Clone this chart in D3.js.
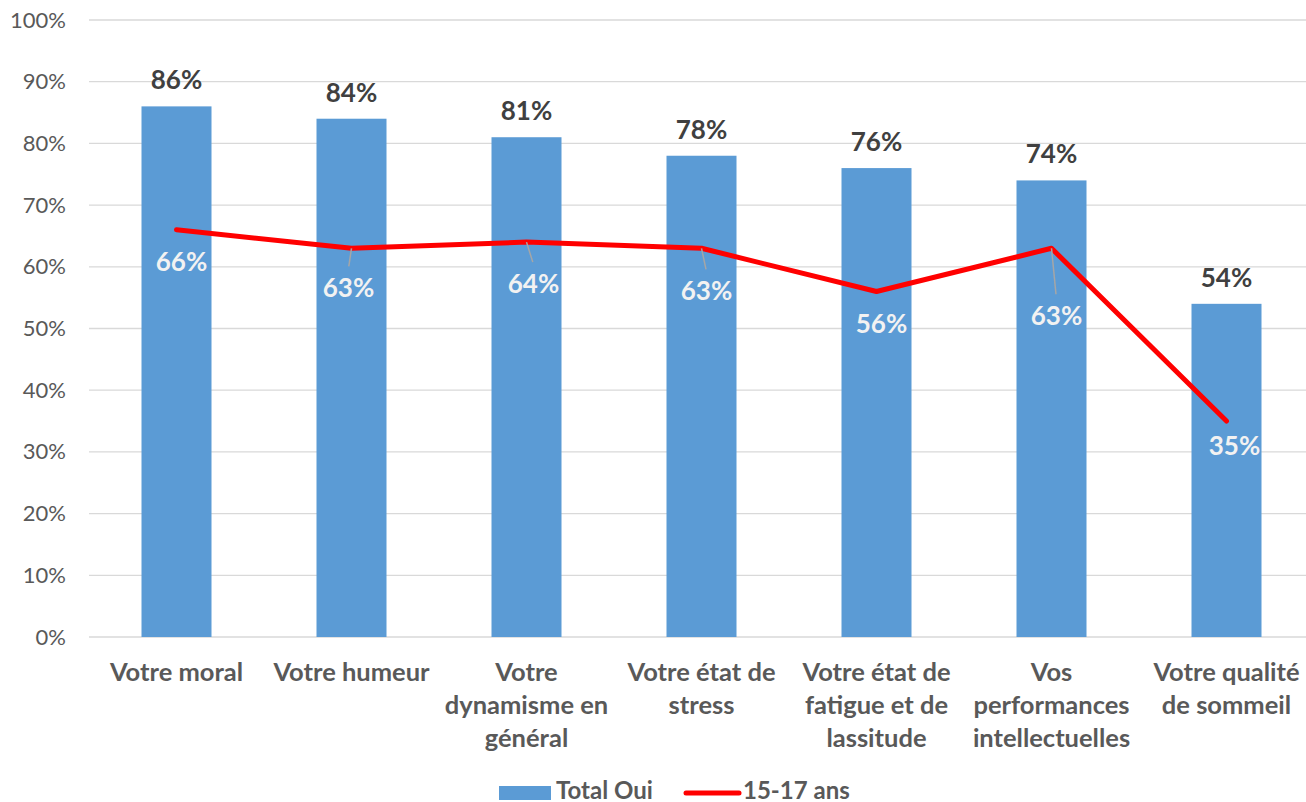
<!DOCTYPE html>
<html>
<head>
<meta charset="utf-8">
<script src="https://cdn.jsdelivr.net/npm/d3@7"></script>
<style>
  body { margin: 0; background: #fff; }
  svg { display: block; font-family: Lato, "Open Sans", sans-serif; }
</style>
</head>
<body>
<div id="chart"></div>
<script>
// data
var categories = [
  ["Votre moral"],
  ["Votre humeur"],
  ["Votre", "dynamisme en", "général"],
  ["Votre état de", "stress"],
  ["Votre état de", "fatigue et de", "lassitude"],
  ["Vos", "performances", "intellectuelles"],
  ["Votre qualité", "de sommeil"]
];
var totalOui = [86, 84, 81, 78, 76, 74, 54];
var ans1517 = [66, 63, 64, 63, 56, 63, 35];
var yTicks = [0, 10, 20, 30, 40, 50, 60, 70, 80, 90, 100];
var seriesNames = ["Total Oui", "15-17 ans"];

// where excel put the line labels (offset from the point), and which have leader lines
var lineLabelOffset = [[5, 32], [-3, 40], [7, 42], [5, 43], [5, 32], [5, 68], [8, 25]];
var hasLeader = [false, true, true, true, false, true, false];

var W = 1306, H = 802;
var plotLeft = 89, plotRight = 1314, plotTop = 20, plotBottom = 637;

var svg = d3.select("#chart").append("svg")
    .attr("width", W)
    .attr("height", H);

var x = d3.scaleBand()
    .domain(d3.range(categories.length))
    .range([plotLeft, plotRight])
    .paddingInner(0.6)
    .paddingOuter(0.3);

var y = d3.scaleLinear().domain([0, 100]).range([plotBottom, plotTop]);

// gridlines
svg.append("g")
    .selectAll("line")
    .data(yTicks)
  .enter().append("line")
    .attr("x1", plotLeft)
    .attr("x2", W)
    .attr("y1", function(d){ return y(d) })
    .attr("y2", function(d){ return y(d) })
    .style("stroke", "#d9d9d9")
    .style("stroke-width", 1.3);

// y axis labels
var yAxis = svg.append("g")
    .attr("transform", "translate(" + (plotLeft - 23) + ",0)")
    .call(d3.axisLeft(y).tickValues(yTicks).tickSize(0).tickPadding(0).tickFormat(function(d){ return d + "%" }));
yAxis.select(".domain").remove();
yAxis.selectAll("text")
    .style("font-family", "Lato, sans-serif")
    .style("font-size", "22px")
    .style("fill", "#595959");

// bars
svg.selectAll(".bar")
    .data(totalOui)
  .enter().append("rect")
    .attr("class", "bar")
    .attr("x", function(d, i){ return x(i) })
    .attr("width", x.bandwidth())
    .attr("y", function(d){ return y(d) })
    .attr("height", function(d){ return y(0) - y(d) })
    .style("fill", "#5b9bd5");

// bar labels
svg.selectAll(".barlab")
    .data(totalOui)
  .enter().append("text")
    .attr("class", "barlab")
    .attr("x", function(d, i){ return x(i) + x.bandwidth() / 2 })
    .attr("y", function(d){ return y(d) - 17 })
    .attr("text-anchor", "middle")
    .style("font-size", "26px")
    .style("font-weight", "bold")
    .style("fill", "#404040")
    .text(function(d){ return d + "%" });

// line
var line = d3.line()
    .x(function(d, i){ return x(i) + x.bandwidth() / 2 })
    .y(function(d){ return y(d) });

svg.append("path")
    .datum(ans1517)
    .attr("d", line)
    .style("fill", "none")
    .style("stroke", "#ff0000")
    .style("stroke-width", 5)
    .style("stroke-linecap", "round")
    .style("stroke-linejoin", "round");

// leader lines
ans1517.forEach(function(d, i){
    if (!hasLeader[i]) return;
    var px = x(i) + x.bandwidth() / 2, py = y(d);
    var o = lineLabelOffset[i];
    svg.append("line")
        .attr("x1", px)
        .attr("y1", py)
        .attr("x2", px + o[0] * 0.9)
        .attr("y2", py + o[1] - 22)
        .style("stroke", "#a6a6a6")
        .style("stroke-width", 1.5);
});

// line labels
svg.selectAll(".linelab")
    .data(ans1517)
  .enter().append("text")
    .attr("class", "linelab")
    .attr("x", function(d, i){ return x(i) + x.bandwidth() / 2 + lineLabelOffset[i][0] })
    .attr("y", function(d, i){ return y(d) + lineLabelOffset[i][1] })
    .attr("dy", "0.35em")
    .attr("text-anchor", "middle")
    .style("font-size", "26px")
    .style("font-weight", "bold")
    .style("fill", "#f2f2f2")
    .text(function(d){ return d + "%" });

// category labels
var cat = svg.selectAll(".cat")
    .data(categories)
  .enter().append("text")
    .attr("class", "cat")
    .attr("text-anchor", "middle")
    .style("font-size", "25.5px")
    .style("font-weight", "bold")
    .style("fill", "#595959");

cat.selectAll("tspan")
    .data(function(d, i){ return d.map(function(s){ return {s: s, i: i} }) })
  .enter().append("tspan")
    .attr("x", function(d){ return x(d.i) + x.bandwidth() / 2 })
    .attr("y", function(d, j){ return 681 + j * 33 })
    .text(function(d){ return d.s });

// legend
var lg = svg.append("g");
lg.append("rect")
    .attr("x", 499).attr("y", 786)
    .attr("width", 52).attr("height", 14)
    .style("fill", "#5b9bd5");
lg.append("text")
    .attr("x", 556).attr("y", 799)
    .style("font-size", "24px")
    .style("font-weight", "bold")
    .style("fill", "#595959")
    .text(seriesNames[0]);
lg.append("line")
    .attr("x1", 686).attr("x2", 739)
    .attr("y1", 793).attr("y2", 793)
    .style("stroke", "#ff0000")
    .style("stroke-width", 5)
    .style("stroke-linecap", "round");
lg.append("text")
    .attr("x", 743).attr("y", 799)
    .style("font-size", "24px")
    .style("font-weight", "bold")
    .style("fill", "#595959")
    .text(seriesNames[1]);
</script>
</body>
</html>
